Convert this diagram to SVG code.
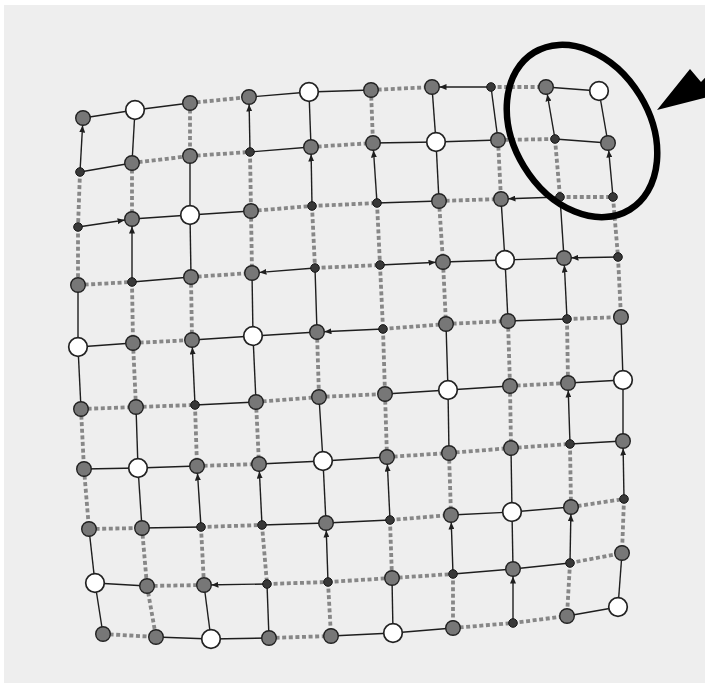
<svg xmlns="http://www.w3.org/2000/svg" width="705" height="683" viewBox="0 0 705 683">
<style>
.s{stroke:#1e1e1e;stroke-width:1.4;fill:none}
.a{stroke:#1e1e1e;stroke-width:1.4;fill:none;marker-end:url(#ah)}
.d{stroke:#878787;stroke-width:3.8;stroke-dasharray:4 2.6;fill:none}
.g{fill:#777777;stroke:#222222;stroke-width:1.4}
.w{fill:#ffffff;stroke:#222222;stroke-width:1.7}
.k{fill:#383838;stroke:#151515;stroke-width:1}
</style>
<defs>
<marker id="ah" markerUnits="userSpaceOnUse" markerWidth="7" markerHeight="6" refX="14.5" refY="3" orient="auto">
<path d="M0,0 L7,3 L0,6 z" fill="#1e1e1e"/>
</marker>
</defs>
<rect x="0" y="0" width="705" height="683" fill="#ffffff"/>
<rect x="4" y="5" width="701" height="678" fill="#eeeeee"/>
<g id="connectors">
<line class="s" x1="83" y1="118" x2="135" y2="110"/>
<line class="s" x1="135" y1="110" x2="190" y2="103"/>
<line class="d" x1="190" y1="103" x2="249" y2="97"/>
<line class="s" x1="249" y1="97" x2="309" y2="92"/>
<line class="s" x1="309" y1="92" x2="371" y2="90"/>
<line class="d" x1="371" y1="90" x2="432" y2="87"/>
<line class="a" x1="491" y1="87" x2="432" y2="87"/>
<line class="d" x1="491" y1="87" x2="546" y2="87"/>
<line class="s" x1="546" y1="87" x2="599" y2="91"/>
<line class="s" x1="80" y1="172" x2="132" y2="163"/>
<line class="d" x1="132" y1="163" x2="190" y2="156"/>
<line class="d" x1="190" y1="156" x2="250" y2="152"/>
<line class="s" x1="250" y1="152" x2="311" y2="147"/>
<line class="d" x1="311" y1="147" x2="373" y2="143"/>
<line class="s" x1="373" y1="143" x2="436" y2="142"/>
<line class="s" x1="436" y1="142" x2="498" y2="140"/>
<line class="d" x1="498" y1="140" x2="555" y2="139"/>
<line class="s" x1="555" y1="139" x2="608" y2="143"/>
<line class="a" x1="78" y1="227" x2="132" y2="219"/>
<line class="s" x1="132" y1="219" x2="190" y2="215"/>
<line class="s" x1="190" y1="215" x2="251" y2="211"/>
<line class="d" x1="251" y1="211" x2="312" y2="206"/>
<line class="d" x1="312" y1="206" x2="377" y2="203"/>
<line class="s" x1="377" y1="203" x2="439" y2="201"/>
<line class="d" x1="439" y1="201" x2="501" y2="199"/>
<line class="a" x1="560" y1="197" x2="501" y2="199"/>
<line class="d" x1="560" y1="197" x2="613" y2="197"/>
<line class="d" x1="78" y1="285" x2="132" y2="282"/>
<line class="s" x1="132" y1="282" x2="191" y2="277"/>
<line class="d" x1="191" y1="277" x2="252" y2="273"/>
<line class="a" x1="315" y1="268" x2="252" y2="273"/>
<line class="d" x1="315" y1="268" x2="380" y2="265"/>
<line class="a" x1="380" y1="265" x2="443" y2="262"/>
<line class="s" x1="443" y1="262" x2="505" y2="260"/>
<line class="s" x1="505" y1="260" x2="564" y2="258"/>
<line class="a" x1="618" y1="257" x2="564" y2="258"/>
<line class="s" x1="78" y1="347" x2="133" y2="343"/>
<line class="d" x1="133" y1="343" x2="192" y2="340"/>
<line class="s" x1="192" y1="340" x2="253" y2="336"/>
<line class="s" x1="253" y1="336" x2="317" y2="332"/>
<line class="a" x1="383" y1="329" x2="317" y2="332"/>
<line class="d" x1="383" y1="329" x2="446" y2="324"/>
<line class="d" x1="446" y1="324" x2="508" y2="321"/>
<line class="s" x1="508" y1="321" x2="567" y2="319"/>
<line class="d" x1="567" y1="319" x2="621" y2="317"/>
<line class="d" x1="81" y1="409" x2="136" y2="407"/>
<line class="d" x1="136" y1="407" x2="195" y2="405"/>
<line class="s" x1="195" y1="405" x2="256" y2="402"/>
<line class="d" x1="256" y1="402" x2="319" y2="397"/>
<line class="d" x1="319" y1="397" x2="385" y2="394"/>
<line class="s" x1="385" y1="394" x2="448" y2="390"/>
<line class="s" x1="448" y1="390" x2="510" y2="386"/>
<line class="d" x1="510" y1="386" x2="568" y2="383"/>
<line class="s" x1="568" y1="383" x2="623" y2="380"/>
<line class="s" x1="84" y1="469" x2="138" y2="468"/>
<line class="s" x1="138" y1="468" x2="197" y2="466"/>
<line class="d" x1="197" y1="466" x2="259" y2="464"/>
<line class="s" x1="259" y1="464" x2="323" y2="461"/>
<line class="s" x1="323" y1="461" x2="387" y2="457"/>
<line class="d" x1="387" y1="457" x2="449" y2="453"/>
<line class="d" x1="449" y1="453" x2="511" y2="448"/>
<line class="d" x1="511" y1="448" x2="570" y2="444"/>
<line class="s" x1="570" y1="444" x2="623" y2="441"/>
<line class="d" x1="89" y1="529" x2="142" y2="528"/>
<line class="s" x1="142" y1="528" x2="201" y2="527"/>
<line class="d" x1="201" y1="527" x2="262" y2="525"/>
<line class="s" x1="262" y1="525" x2="326" y2="523"/>
<line class="s" x1="326" y1="523" x2="390" y2="520"/>
<line class="d" x1="390" y1="520" x2="451" y2="515"/>
<line class="s" x1="451" y1="515" x2="512" y2="512"/>
<line class="s" x1="512" y1="512" x2="571" y2="507"/>
<line class="d" x1="571" y1="507" x2="624" y2="499"/>
<line class="s" x1="95" y1="583" x2="147" y2="586"/>
<line class="d" x1="147" y1="586" x2="204" y2="585"/>
<line class="a" x1="267" y1="584" x2="204" y2="585"/>
<line class="d" x1="267" y1="584" x2="328" y2="582"/>
<line class="d" x1="328" y1="582" x2="392" y2="578"/>
<line class="d" x1="392" y1="578" x2="453" y2="574"/>
<line class="s" x1="453" y1="574" x2="513" y2="569"/>
<line class="s" x1="513" y1="569" x2="570" y2="563"/>
<line class="d" x1="570" y1="563" x2="622" y2="553"/>
<line class="d" x1="103" y1="634" x2="156" y2="637"/>
<line class="s" x1="156" y1="637" x2="211" y2="639"/>
<line class="s" x1="211" y1="639" x2="269" y2="638"/>
<line class="d" x1="269" y1="638" x2="331" y2="636"/>
<line class="s" x1="331" y1="636" x2="393" y2="633"/>
<line class="s" x1="393" y1="633" x2="453" y2="628"/>
<line class="d" x1="453" y1="628" x2="513" y2="623"/>
<line class="d" x1="513" y1="623" x2="567" y2="616"/>
<line class="s" x1="567" y1="616" x2="618" y2="607"/>
<line class="a" x1="80" y1="172" x2="83" y2="118"/>
<line class="d" x1="80" y1="172" x2="78" y2="227"/>
<line class="d" x1="78" y1="227" x2="78" y2="285"/>
<line class="s" x1="78" y1="285" x2="78" y2="347"/>
<line class="s" x1="78" y1="347" x2="81" y2="409"/>
<line class="d" x1="81" y1="409" x2="84" y2="469"/>
<line class="d" x1="84" y1="469" x2="89" y2="529"/>
<line class="s" x1="89" y1="529" x2="95" y2="583"/>
<line class="s" x1="95" y1="583" x2="103" y2="634"/>
<line class="s" x1="135" y1="110" x2="132" y2="163"/>
<line class="d" x1="132" y1="163" x2="132" y2="219"/>
<line class="a" x1="132" y1="282" x2="132" y2="219"/>
<line class="d" x1="132" y1="282" x2="133" y2="343"/>
<line class="d" x1="133" y1="343" x2="136" y2="407"/>
<line class="s" x1="136" y1="407" x2="138" y2="468"/>
<line class="s" x1="138" y1="468" x2="142" y2="528"/>
<line class="d" x1="142" y1="528" x2="147" y2="586"/>
<line class="d" x1="147" y1="586" x2="156" y2="637"/>
<line class="d" x1="190" y1="103" x2="190" y2="156"/>
<line class="s" x1="190" y1="156" x2="190" y2="215"/>
<line class="s" x1="190" y1="215" x2="191" y2="277"/>
<line class="d" x1="191" y1="277" x2="192" y2="340"/>
<line class="a" x1="195" y1="405" x2="192" y2="340"/>
<line class="d" x1="195" y1="405" x2="197" y2="466"/>
<line class="a" x1="201" y1="527" x2="197" y2="466"/>
<line class="d" x1="201" y1="527" x2="204" y2="585"/>
<line class="s" x1="204" y1="585" x2="211" y2="639"/>
<line class="a" x1="250" y1="152" x2="249" y2="97"/>
<line class="d" x1="250" y1="152" x2="251" y2="211"/>
<line class="d" x1="251" y1="211" x2="252" y2="273"/>
<line class="s" x1="252" y1="273" x2="253" y2="336"/>
<line class="s" x1="253" y1="336" x2="256" y2="402"/>
<line class="d" x1="256" y1="402" x2="259" y2="464"/>
<line class="a" x1="262" y1="525" x2="259" y2="464"/>
<line class="d" x1="262" y1="525" x2="267" y2="584"/>
<line class="s" x1="267" y1="584" x2="269" y2="638"/>
<line class="s" x1="309" y1="92" x2="311" y2="147"/>
<line class="a" x1="312" y1="206" x2="311" y2="147"/>
<line class="d" x1="312" y1="206" x2="315" y2="268"/>
<line class="s" x1="315" y1="268" x2="317" y2="332"/>
<line class="d" x1="317" y1="332" x2="319" y2="397"/>
<line class="s" x1="319" y1="397" x2="323" y2="461"/>
<line class="s" x1="323" y1="461" x2="326" y2="523"/>
<line class="a" x1="328" y1="582" x2="326" y2="523"/>
<line class="d" x1="328" y1="582" x2="331" y2="636"/>
<line class="d" x1="371" y1="90" x2="373" y2="143"/>
<line class="a" x1="377" y1="203" x2="373" y2="143"/>
<line class="d" x1="377" y1="203" x2="380" y2="265"/>
<line class="d" x1="380" y1="265" x2="383" y2="329"/>
<line class="d" x1="383" y1="329" x2="385" y2="394"/>
<line class="d" x1="385" y1="394" x2="387" y2="457"/>
<line class="a" x1="390" y1="520" x2="387" y2="457"/>
<line class="d" x1="390" y1="520" x2="392" y2="578"/>
<line class="s" x1="392" y1="578" x2="393" y2="633"/>
<line class="s" x1="432" y1="87" x2="436" y2="142"/>
<line class="s" x1="436" y1="142" x2="439" y2="201"/>
<line class="d" x1="439" y1="201" x2="443" y2="262"/>
<line class="d" x1="443" y1="262" x2="446" y2="324"/>
<line class="s" x1="446" y1="324" x2="448" y2="390"/>
<line class="s" x1="448" y1="390" x2="449" y2="453"/>
<line class="d" x1="449" y1="453" x2="451" y2="515"/>
<line class="a" x1="453" y1="574" x2="451" y2="515"/>
<line class="d" x1="453" y1="574" x2="453" y2="628"/>
<line class="s" x1="491" y1="87" x2="498" y2="140"/>
<line class="d" x1="498" y1="140" x2="501" y2="199"/>
<line class="s" x1="501" y1="199" x2="505" y2="260"/>
<line class="s" x1="505" y1="260" x2="508" y2="321"/>
<line class="d" x1="508" y1="321" x2="510" y2="386"/>
<line class="d" x1="510" y1="386" x2="511" y2="448"/>
<line class="s" x1="511" y1="448" x2="512" y2="512"/>
<line class="s" x1="512" y1="512" x2="513" y2="569"/>
<line class="a" x1="513" y1="623" x2="513" y2="569"/>
<line class="a" x1="555" y1="139" x2="546" y2="87"/>
<line class="d" x1="555" y1="139" x2="560" y2="197"/>
<line class="s" x1="560" y1="197" x2="564" y2="258"/>
<line class="a" x1="567" y1="319" x2="564" y2="258"/>
<line class="d" x1="567" y1="319" x2="568" y2="383"/>
<line class="a" x1="570" y1="444" x2="568" y2="383"/>
<line class="d" x1="570" y1="444" x2="571" y2="507"/>
<line class="a" x1="570" y1="563" x2="571" y2="507"/>
<line class="d" x1="570" y1="563" x2="567" y2="616"/>
<line class="s" x1="599" y1="91" x2="608" y2="143"/>
<line class="a" x1="613" y1="197" x2="608" y2="143"/>
<line class="d" x1="613" y1="197" x2="618" y2="257"/>
<line class="d" x1="618" y1="257" x2="621" y2="317"/>
<line class="s" x1="621" y1="317" x2="623" y2="380"/>
<line class="s" x1="623" y1="380" x2="623" y2="441"/>
<line class="a" x1="624" y1="499" x2="623" y2="441"/>
<line class="d" x1="624" y1="499" x2="622" y2="553"/>
<line class="s" x1="622" y1="553" x2="618" y2="607"/>
</g>
<g id="nodes">
<g id="n0-0"><circle class="g" cx="83" cy="118" r="7.3"/></g>
<g id="n0-1"><circle class="w" cx="135" cy="110" r="9.3"/></g>
<g id="n0-2"><circle class="g" cx="190" cy="103" r="7.3"/></g>
<g id="n0-3"><circle class="g" cx="249" cy="97" r="7.3"/></g>
<g id="n0-4"><circle class="w" cx="309" cy="92" r="9.3"/></g>
<g id="n0-5"><circle class="g" cx="371" cy="90" r="7.3"/></g>
<g id="n0-6"><circle class="g" cx="432" cy="87" r="7.3"/></g>
<g id="n0-7"><circle class="k" cx="491" cy="87" r="4.3"/></g>
<g id="n0-8"><circle class="g" cx="546" cy="87" r="7.3"/></g>
<g id="n0-9"><circle class="w" cx="599" cy="91" r="9.3"/></g>
<g id="n1-0"><circle class="k" cx="80" cy="172" r="4.3"/></g>
<g id="n1-1"><circle class="g" cx="132" cy="163" r="7.3"/></g>
<g id="n1-2"><circle class="g" cx="190" cy="156" r="7.3"/></g>
<g id="n1-3"><circle class="k" cx="250" cy="152" r="4.3"/></g>
<g id="n1-4"><circle class="g" cx="311" cy="147" r="7.3"/></g>
<g id="n1-5"><circle class="g" cx="373" cy="143" r="7.3"/></g>
<g id="n1-6"><circle class="w" cx="436" cy="142" r="9.3"/></g>
<g id="n1-7"><circle class="g" cx="498" cy="140" r="7.3"/></g>
<g id="n1-8"><circle class="k" cx="555" cy="139" r="4.3"/></g>
<g id="n1-9"><circle class="g" cx="608" cy="143" r="7.3"/></g>
<g id="n2-0"><circle class="k" cx="78" cy="227" r="4.3"/></g>
<g id="n2-1"><circle class="g" cx="132" cy="219" r="7.3"/></g>
<g id="n2-2"><circle class="w" cx="190" cy="215" r="9.3"/></g>
<g id="n2-3"><circle class="g" cx="251" cy="211" r="7.3"/></g>
<g id="n2-4"><circle class="k" cx="312" cy="206" r="4.3"/></g>
<g id="n2-5"><circle class="k" cx="377" cy="203" r="4.3"/></g>
<g id="n2-6"><circle class="g" cx="439" cy="201" r="7.3"/></g>
<g id="n2-7"><circle class="g" cx="501" cy="199" r="7.3"/></g>
<g id="n2-8"><circle class="k" cx="560" cy="197" r="4.3"/></g>
<g id="n2-9"><circle class="k" cx="613" cy="197" r="4.3"/></g>
<g id="n3-0"><circle class="g" cx="78" cy="285" r="7.3"/></g>
<g id="n3-1"><circle class="k" cx="132" cy="282" r="4.3"/></g>
<g id="n3-2"><circle class="g" cx="191" cy="277" r="7.3"/></g>
<g id="n3-3"><circle class="g" cx="252" cy="273" r="7.3"/></g>
<g id="n3-4"><circle class="k" cx="315" cy="268" r="4.3"/></g>
<g id="n3-5"><circle class="k" cx="380" cy="265" r="4.3"/></g>
<g id="n3-6"><circle class="g" cx="443" cy="262" r="7.3"/></g>
<g id="n3-7"><circle class="w" cx="505" cy="260" r="9.3"/></g>
<g id="n3-8"><circle class="g" cx="564" cy="258" r="7.3"/></g>
<g id="n3-9"><circle class="k" cx="618" cy="257" r="4.3"/></g>
<g id="n4-0"><circle class="w" cx="78" cy="347" r="9.3"/></g>
<g id="n4-1"><circle class="g" cx="133" cy="343" r="7.3"/></g>
<g id="n4-2"><circle class="g" cx="192" cy="340" r="7.3"/></g>
<g id="n4-3"><circle class="w" cx="253" cy="336" r="9.3"/></g>
<g id="n4-4"><circle class="g" cx="317" cy="332" r="7.3"/></g>
<g id="n4-5"><circle class="k" cx="383" cy="329" r="4.3"/></g>
<g id="n4-6"><circle class="g" cx="446" cy="324" r="7.3"/></g>
<g id="n4-7"><circle class="g" cx="508" cy="321" r="7.3"/></g>
<g id="n4-8"><circle class="k" cx="567" cy="319" r="4.3"/></g>
<g id="n4-9"><circle class="g" cx="621" cy="317" r="7.3"/></g>
<g id="n5-0"><circle class="g" cx="81" cy="409" r="7.3"/></g>
<g id="n5-1"><circle class="g" cx="136" cy="407" r="7.3"/></g>
<g id="n5-2"><circle class="k" cx="195" cy="405" r="4.3"/></g>
<g id="n5-3"><circle class="g" cx="256" cy="402" r="7.3"/></g>
<g id="n5-4"><circle class="g" cx="319" cy="397" r="7.3"/></g>
<g id="n5-5"><circle class="g" cx="385" cy="394" r="7.3"/></g>
<g id="n5-6"><circle class="w" cx="448" cy="390" r="9.3"/></g>
<g id="n5-7"><circle class="g" cx="510" cy="386" r="7.3"/></g>
<g id="n5-8"><circle class="g" cx="568" cy="383" r="7.3"/></g>
<g id="n5-9"><circle class="w" cx="623" cy="380" r="9.3"/></g>
<g id="n6-0"><circle class="g" cx="84" cy="469" r="7.3"/></g>
<g id="n6-1"><circle class="w" cx="138" cy="468" r="9.3"/></g>
<g id="n6-2"><circle class="g" cx="197" cy="466" r="7.3"/></g>
<g id="n6-3"><circle class="g" cx="259" cy="464" r="7.3"/></g>
<g id="n6-4"><circle class="w" cx="323" cy="461" r="9.3"/></g>
<g id="n6-5"><circle class="g" cx="387" cy="457" r="7.3"/></g>
<g id="n6-6"><circle class="g" cx="449" cy="453" r="7.3"/></g>
<g id="n6-7"><circle class="g" cx="511" cy="448" r="7.3"/></g>
<g id="n6-8"><circle class="k" cx="570" cy="444" r="4.3"/></g>
<g id="n6-9"><circle class="g" cx="623" cy="441" r="7.3"/></g>
<g id="n7-0"><circle class="g" cx="89" cy="529" r="7.3"/></g>
<g id="n7-1"><circle class="g" cx="142" cy="528" r="7.3"/></g>
<g id="n7-2"><circle class="k" cx="201" cy="527" r="4.3"/></g>
<g id="n7-3"><circle class="k" cx="262" cy="525" r="4.3"/></g>
<g id="n7-4"><circle class="g" cx="326" cy="523" r="7.3"/></g>
<g id="n7-5"><circle class="k" cx="390" cy="520" r="4.3"/></g>
<g id="n7-6"><circle class="g" cx="451" cy="515" r="7.3"/></g>
<g id="n7-7"><circle class="w" cx="512" cy="512" r="9.3"/></g>
<g id="n7-8"><circle class="g" cx="571" cy="507" r="7.3"/></g>
<g id="n7-9"><circle class="k" cx="624" cy="499" r="4.3"/></g>
<g id="n8-0"><circle class="w" cx="95" cy="583" r="9.3"/></g>
<g id="n8-1"><circle class="g" cx="147" cy="586" r="7.3"/></g>
<g id="n8-2"><circle class="g" cx="204" cy="585" r="7.3"/></g>
<g id="n8-3"><circle class="k" cx="267" cy="584" r="4.3"/></g>
<g id="n8-4"><circle class="k" cx="328" cy="582" r="4.3"/></g>
<g id="n8-5"><circle class="g" cx="392" cy="578" r="7.3"/></g>
<g id="n8-6"><circle class="k" cx="453" cy="574" r="4.3"/></g>
<g id="n8-7"><circle class="g" cx="513" cy="569" r="7.3"/></g>
<g id="n8-8"><circle class="k" cx="570" cy="563" r="4.3"/></g>
<g id="n8-9"><circle class="g" cx="622" cy="553" r="7.3"/></g>
<g id="n9-0"><circle class="g" cx="103" cy="634" r="7.3"/></g>
<g id="n9-1"><circle class="g" cx="156" cy="637" r="7.3"/></g>
<g id="n9-2"><circle class="w" cx="211" cy="639" r="9.3"/></g>
<g id="n9-3"><circle class="g" cx="269" cy="638" r="7.3"/></g>
<g id="n9-4"><circle class="g" cx="331" cy="636" r="7.3"/></g>
<g id="n9-5"><circle class="w" cx="393" cy="633" r="9.3"/></g>
<g id="n9-6"><circle class="g" cx="453" cy="628" r="7.3"/></g>
<g id="n9-7"><circle class="k" cx="513" cy="623" r="4.3"/></g>
<g id="n9-8"><circle class="g" cx="567" cy="616" r="7.3"/></g>
<g id="n9-9"><circle class="w" cx="618" cy="607" r="9.3"/></g>
</g>
<g id="highlight">
<ellipse cx="582" cy="131" rx="92" ry="68" transform="rotate(58.7 582 131)" fill="none" stroke="#000" stroke-width="6.5"/>
<polygon points="657,110 690,69 701,82 712,70 712,96" fill="#000"/>
</g>
</svg>
